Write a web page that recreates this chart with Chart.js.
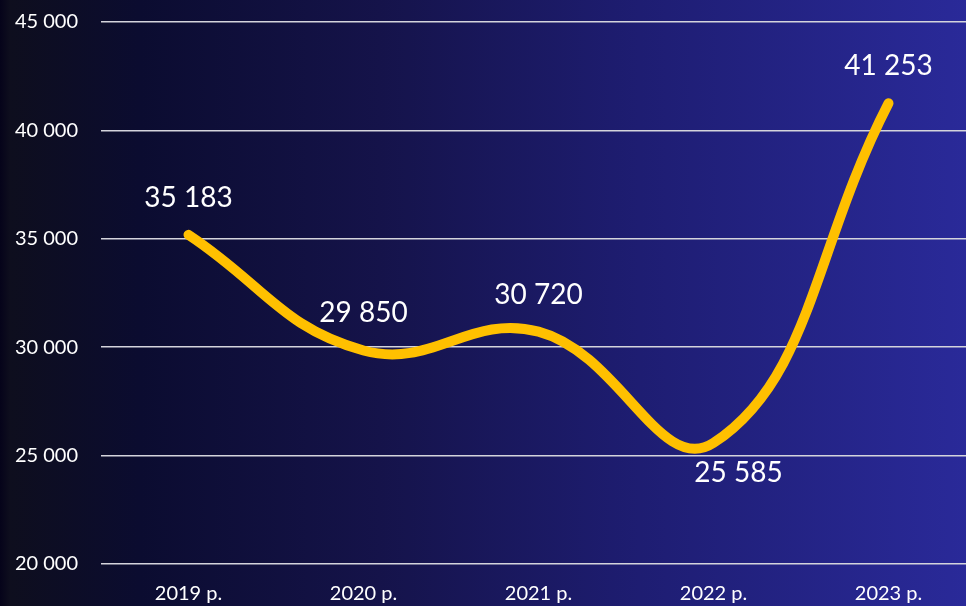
<!DOCTYPE html>
<html>
<head>
<meta charset="utf-8">
<script src="https://cdn.jsdelivr.net/npm/chart.js@4"></script>
<style>
  html, body { margin: 0; padding: 0; overflow: hidden; width: 966px; height: 606px; }
  #wrap {
    position: relative;
    width: 976px;
    height: 606px;
    background: linear-gradient(90deg, #05031a 0px, #0e0e1e 10px, #0b0c30 140px, #15134a 380px, #1e1d72 640px, #2a2a9a 976px);
  }
</style>
</head>
<body>
<div id="wrap"><canvas id="chart"></canvas></div>
<script>
const years = ["2019 р.", "2020 р.", "2021 р.", "2022 р.", "2023 р."];
const values = [35183, 29850, 30720, 25585, 41253];
const yTicks = [20000, 25000, 30000, 35000, 40000, 45000];

function fmt(n) {
  return String(n).replace(/\B(?=(\d{3})+(?!\d))/g, " ");
}

// value labels: above each point, lowest one goes below
const valueLabels = {
  id: "valueLabels",
  afterDatasetsDraw(chart) {
    const ctx = chart.ctx;
    const meta = chart.getDatasetMeta(0);
    const data = chart.data.datasets[0].data;
    const min = Math.min(...data);
    ctx.save();
    ctx.fillStyle = "#ffffff";
    ctx.font = "28px Lato";
    ctx.textAlign = "center";
    ctx.textBaseline = "middle";
    meta.data.forEach((pt, i) => {
      if (data[i] === min) {
        ctx.fillText(fmt(data[i]), pt.x + 25, pt.y + 30);
      } else {
        ctx.fillText(fmt(data[i]), pt.x, pt.y - 37);
      }
    });
    ctx.restore();
  }
};

new Chart(document.getElementById("chart"), {
  type: "line",
  data: {
    labels: years,
    datasets: [{
      data: values,
      borderColor: "#ffc000",
      borderWidth: 10,
      borderCapStyle: "round",
      borderJoinStyle: "round",
      tension: 0.43,
      pointRadius: 0,
      fill: false
    }]
  },
  options: {
    responsive: true,
    maintainAspectRatio: false,
    animation: false,
    layout: { autoPadding: false, padding: { left: 12, top: 22, right: 0, bottom: 0 } },
    plugins: {
      legend: { display: false },
      tooltip: { enabled: false }
    },
    scales: {
      x: {
        offset: true,
        afterFit(scale) { scale.height = 42; },
        grid: { display: false },
        border: { display: false },
        ticks: { color: "#ffffff", font: { family: "Lato", size: 20 }, padding: 10, maxRotation: 0 }
      },
      y: {
        min: 20000,
        max: 45000,
        afterFit(scale) { scale.width = 89; },
        afterBuildTicks(scale) { scale.ticks = yTicks.map(v => ({ value: v })); },
        grid: { color: "#d4d4dc", lineWidth: 1.6, drawTicks: true, tickLength: 23, tickColor: "rgba(0,0,0,0)" },
        border: { display: false },
        ticks: {
          color: "#ffffff",
          font: { family: "Lato", size: 20 },
          padding: 0,
          callback: v => fmt(v)
        }
      }
    }
  },
  plugins: [valueLabels]
});
</script>
</body>
</html>
